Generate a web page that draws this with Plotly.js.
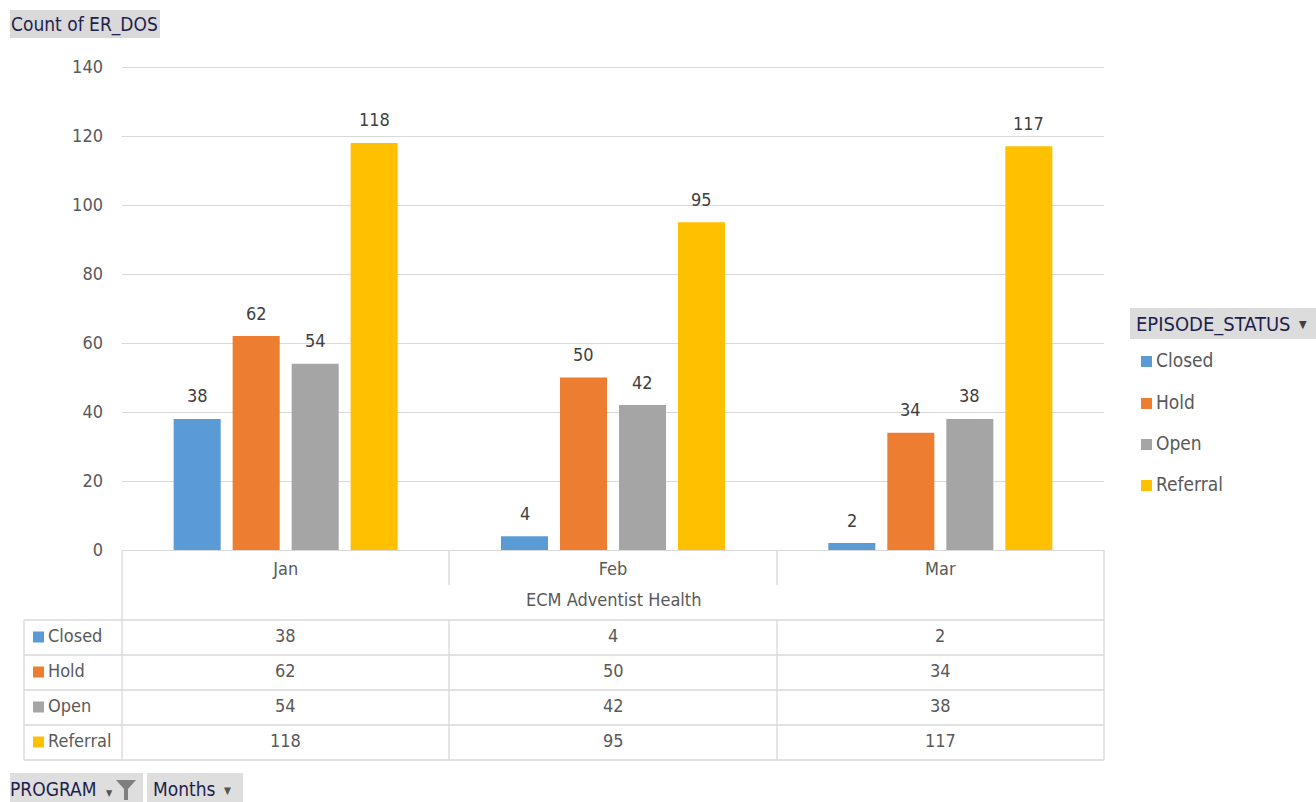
<!DOCTYPE html>
<html>
<head>
<meta charset="utf-8">
<script src="https://cdn.plot.ly/plotly-3.0.1.min.js"></script>
<style>
  html, body { margin: 0; padding: 0; background: #ffffff; }
  #chart { width: 1316px; height: 802px; }
</style>
</head>
<body>
<div id="chart"></div>
<script>
// Monthly episode counts by status (ECM Adventist Health)
const months = ['Jan', 'Feb', 'Mar'];
const statuses = ['Closed', 'Hold', 'Open', 'Referral'];
const closed = [38, 4, 2];
const hold = [62, 50, 34];
const open = [54, 42, 38];
const referral = [118, 95, 117];
const program = 'ECM Adventist Health';
const colors = ['#5B9BD5', '#ED7D31', '#A5A5A5', '#FFC000'];
const seriesValues = [closed, hold, open, referral];

// Figure geometry (pixels)
const W = 1316, H = 802;
const L = 122, R = 1104, T = 65, B = 550;
const YMAX = 140 * (B - T) / (550 - 67);   // keeps 140 at the 67px line
const px = p => (p - L) / (R - L);          // pixel x -> paper x
const py = p => (B - p) / (B - T);          // pixel y -> paper y

const FONT = 'DejaVu Sans Condensed, DejaVu Sans, sans-serif';
const FS = 18;
const TXT = '#595959';
const GRID = '#d9d9d9';
const NAVY = '#1f1f4d';

const BARGAP = 0.279, GROUPGAP = 0.203;
const slot = (1 - BARGAP) / statuses.length;

const traces = statuses.map((s, i) => ({
  type: 'bar',
  name: s,
  x: months,
  y: seriesValues[i],
  marker: { color: colors[i] },
  hoverinfo: 'x+y+name'
}));

const shapes = [];
const annotations = [];

// value labels above each bar
statuses.forEach((s, i) => {
  seriesValues[i].forEach((v, c) => {
    annotations.push({
      text: String(v), xref: 'x', yref: 'y',
      x: c + (i - (statuses.length - 1) / 2) * slot, y: v,
      showarrow: false, xanchor: 'center', yanchor: 'middle', yshift: 23,
      font: { family: FONT, size: FS, color: '#404040' }
    });
  });
});

function line(x0, y0, x1, y1) {
  shapes.push({ type: 'line', xref: 'paper', yref: 'paper',
    x0: px(x0), y0: py(y0), x1: px(x1), y1: py(y1),
    line: { color: GRID, width: 1.3 } });
}
function box(x0, y0, x1, y1, fill) {
  shapes.push({ type: 'rect', xref: 'paper', yref: 'paper',
    x0: px(x0), y0: py(y0), x1: px(x1), y1: py(y1),
    fillcolor: fill, line: { width: 0 }, layer: 'below' });
}
function label(text, x, y, opts) {
  annotations.push(Object.assign({
    text: text, xref: 'paper', yref: 'paper', x: px(x), y: py(y),
    showarrow: false, xanchor: 'left', yanchor: 'middle',
    font: { family: FONT, size: FS, color: TXT }
  }, opts || {}));
}

// Data table under the plot
const rowTop = 620, rowH = 35;
const colEdges = [L, 449, 777, R];
line(L, B, L, rowTop + rowH * 4);
line(R, B, R, rowTop + rowH * 4);
line(colEdges[1], B, colEdges[1], 585);
line(colEdges[2], B, colEdges[2], 585);
annotations.push({ text: program, xref: 'paper', yref: 'paper', x: 0.5, y: py(599),
  showarrow: false, xanchor: 'center', yanchor: 'middle',
  font: { family: FONT, size: FS, color: TXT } });
line(24, rowTop, R, rowTop);
for (let r = 0; r < statuses.length; r++) {
  const yb = rowTop + rowH * (r + 1);
  line(24, yb, R, yb);
}
line(24, rowTop, 24, rowTop + rowH * 4);
line(colEdges[1], rowTop, colEdges[1], rowTop + rowH * 4);
line(colEdges[2], rowTop, colEdges[2], rowTop + rowH * 4);

statuses.forEach((s, r) => {
  const yc = rowTop + rowH * r + rowH / 2 - 2;
  shapes.push({ type: 'rect', xref: 'paper', yref: 'paper',
    x0: px(33), x1: px(44), y0: py(yc - 4), y1: py(yc + 7),
    fillcolor: colors[r], line: { width: 0 } });
  label(s, 46, yc);
  months.forEach((m, c) => {
    annotations.push({ text: String(seriesValues[r][c]), xref: 'x', yref: 'paper',
      x: m, y: py(yc), showarrow: false, xanchor: 'center', yanchor: 'middle',
      font: { family: FONT, size: FS, color: TXT } });
  });
});

// Legend on the right
box(1130, 308, W, 339, '#dcdcdc');
label('EPISODE_STATUS', 1134, 324, { font: { family: FONT, size: 20, color: NAVY } });
label('\u25BC', 1297, 324, { font: { family: FONT, size: 11, color: '#404040' } });
const legY = [360, 402, 443, 484];
statuses.forEach((s, i) => {
  shapes.push({ type: 'rect', xref: 'paper', yref: 'paper',
    x0: px(1141), x1: px(1152), y0: py(legY[i] - 4), y1: py(legY[i] + 7),
    fillcolor: colors[i], line: { width: 0 } });
  label(s, 1154, legY[i], { font: { family: FONT, size: 19, color: TXT } });
});

// Field buttons
box(10, 10, 160, 38, '#d9d9d9');
label('Count of ER_DOS', 9, 24, { font: { family: FONT, size: 19, color: NAVY } });
box(10, 773, 143, H + 2, '#dedede');
label('PROGRAM', 8, 789, { font: { family: FONT, size: 19, color: NAVY } });
label('\u25BC', 104, 793, { font: { family: FONT, size: 9, color: '#555555' } });
// funnel glyph
shapes.push({ type: 'path', xref: 'paper', yref: 'paper',
  path: `M ${px(116)} ${py(780)} L ${px(136)} ${py(780)} L ${px(128)} ${py(789)} L ${px(128)} ${py(800)} L ${px(124)} ${py(800)} L ${px(124)} ${py(789)} Z`,
  fillcolor: '#7f7f7f', line: { width: 0 } });
box(147, 773, 243, H + 2, '#dedede');
label('Months', 151, 789, { font: { family: FONT, size: 19, color: NAVY } });
label('\u25BC', 222, 790, { font: { family: FONT, size: 10, color: '#555555' } });

const layout = {
  width: W, height: H,
  margin: { l: L, r: W - R, t: T, b: H - B },
  paper_bgcolor: '#ffffff', plot_bgcolor: '#ffffff',
  showlegend: false,
  barmode: 'group',
  bargap: BARGAP,
  bargroupgap: GROUPGAP,
  font: { family: FONT, size: FS, color: TXT },
  xaxis: {
    type: 'category', categoryarray: months,
    showgrid: false, zeroline: false,
    showline: true, linecolor: GRID, linewidth: 1.3,
    ticks: '', ticklabelstandoff: 2,
    tickfont: { family: FONT, size: FS, color: TXT }
  },
  yaxis: {
    range: [0, YMAX], tickvals: [0, 20, 40, 60, 80, 100, 120, 140],
    showgrid: true, gridcolor: GRID, gridwidth: 1.3,
    zeroline: false, showline: false, ticks: '',
    ticklabelstandoff: 18,
    tickfont: { family: FONT, size: FS, color: TXT }
  },
  shapes: shapes,
  annotations: annotations
};

Plotly.newPlot('chart', traces, layout, { displayModeBar: false, responsive: false });
</script>
</body>
</html>
